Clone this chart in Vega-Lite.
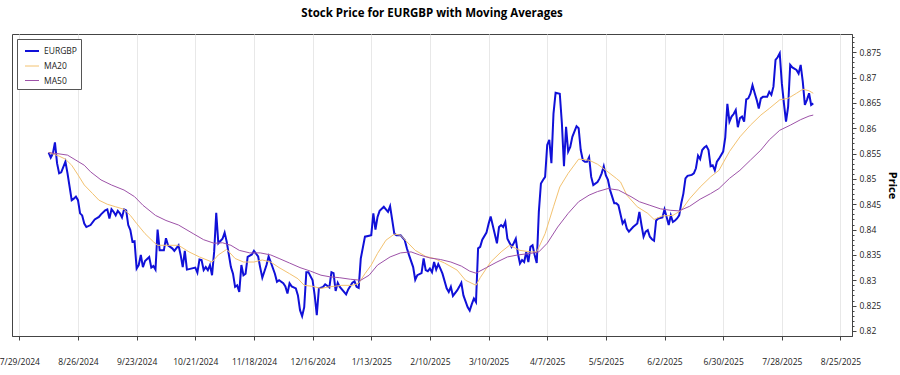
{
"$schema": "https://vega.github.io/schema/vega-lite/v6.json",
"width": 840, "height": 302,
"autosize": "none",
"padding": {"left": 12, "top": 34, "right": 48, "bottom": 39},
"config": {
"font": "Open Sans",
"view": {"stroke": "#444", "strokeWidth": 1},
"axis": {"labelFont": "Open Sans", "labelColor": "#222", "labelFontSize": 8.5, "domainColor": "#444", "tickColor": "#444"}
},
"title": {"text": "Stock Price for EURGBP with Moving Averages", "fontSize": 11.5, "fontWeight": "bold", "font": "Open Sans", "color": "#000", "anchor": "middle", "offset": 15},
"data": {"values": [
{"d":"2024-08-12","s":"EURGBP","p":0.8552},{"d":"2024-08-13","s":"EURGBP","p":0.8542},{"d":"2024-08-14","s":"EURGBP","p":0.8550},{"d":"2024-08-15","s":"EURGBP","p":0.8572},{"d":"2024-08-16","s":"EURGBP","p":0.8531},{"d":"2024-08-17","s":"EURGBP","p":0.8511},{"d":"2024-08-18","s":"EURGBP","p":0.8513},{"d":"2024-08-20","s":"EURGBP","p":0.8534},{"d":"2024-08-21","s":"EURGBP","p":0.8511},{"d":"2024-08-23","s":"EURGBP","p":0.8458},{"d":"2024-08-24","s":"EURGBP","p":0.8461},{"d":"2024-08-25","s":"EURGBP","p":0.8465},{"d":"2024-08-26","s":"EURGBP","p":0.8458},{"d":"2024-08-27","s":"EURGBP","p":0.8432},{"d":"2024-08-28","s":"EURGBP","p":0.8428},{"d":"2024-08-29","s":"EURGBP","p":0.8412},{"d":"2024-08-30","s":"EURGBP","p":0.8405},
{"d":"2024-09-01","s":"EURGBP","p":0.8409},{"d":"2024-09-03","s":"EURGBP","p":0.8420},{"d":"2024-09-05","s":"EURGBP","p":0.8425},{"d":"2024-09-06","s":"EURGBP","p":0.8430},{"d":"2024-09-08","s":"EURGBP","p":0.8438},{"d":"2024-09-09","s":"EURGBP","p":0.8440},{"d":"2024-09-10","s":"EURGBP","p":0.8422},{"d":"2024-09-11","s":"EURGBP","p":0.8440},{"d":"2024-09-12","s":"EURGBP","p":0.8435},{"d":"2024-09-13","s":"EURGBP","p":0.8428},{"d":"2024-09-14","s":"EURGBP","p":0.8437},{"d":"2024-09-15","s":"EURGBP","p":0.8432},{"d":"2024-09-16","s":"EURGBP","p":0.8424},{"d":"2024-09-17","s":"EURGBP","p":0.8440},{"d":"2024-09-18","s":"EURGBP","p":0.8438},{"d":"2024-09-19","s":"EURGBP","p":0.8409},{"d":"2024-09-20","s":"EURGBP","p":0.8399},{"d":"2024-09-21","s":"EURGBP","p":0.8376},{"d":"2024-09-22","s":"EURGBP","p":0.8377},{"d":"2024-09-23","s":"EURGBP","p":0.8323},{"d":"2024-09-24","s":"EURGBP","p":0.8330},{"d":"2024-09-25","s":"EURGBP","p":0.8350},{"d":"2024-09-26","s":"EURGBP","p":0.8326},{"d":"2024-09-27","s":"EURGBP","p":0.8338},{"d":"2024-09-29","s":"EURGBP","p":0.8346},{"d":"2024-09-30","s":"EURGBP","p":0.8325},
{"d":"2024-10-01","s":"EURGBP","p":0.8328},{"d":"2024-10-02","s":"EURGBP","p":0.8321},{"d":"2024-10-03","s":"EURGBP","p":0.8400},{"d":"2024-10-04","s":"EURGBP","p":0.8359},{"d":"2024-10-06","s":"EURGBP","p":0.8359},{"d":"2024-10-07","s":"EURGBP","p":0.8383},{"d":"2024-10-08","s":"EURGBP","p":0.8369},{"d":"2024-10-09","s":"EURGBP","p":0.8366},{"d":"2024-10-10","s":"EURGBP","p":0.8363},{"d":"2024-10-11","s":"EURGBP","p":0.8358},{"d":"2024-10-13","s":"EURGBP","p":0.8369},{"d":"2024-10-14","s":"EURGBP","p":0.8350},{"d":"2024-10-15","s":"EURGBP","p":0.8326},{"d":"2024-10-16","s":"EURGBP","p":0.8358},{"d":"2024-10-17","s":"EURGBP","p":0.8321},{"d":"2024-10-19","s":"EURGBP","p":0.8323},{"d":"2024-10-21","s":"EURGBP","p":0.8325},{"d":"2024-10-22","s":"EURGBP","p":0.8315},{"d":"2024-10-23","s":"EURGBP","p":0.8341},{"d":"2024-10-24","s":"EURGBP","p":0.8340},{"d":"2024-10-25","s":"EURGBP","p":0.8320},{"d":"2024-10-26","s":"EURGBP","p":0.8326},{"d":"2024-10-27","s":"EURGBP","p":0.8320},{"d":"2024-10-28","s":"EURGBP","p":0.8330},{"d":"2024-10-29","s":"EURGBP","p":0.8310},{"d":"2024-10-30","s":"EURGBP","p":0.8356},{"d":"2024-10-31","s":"EURGBP","p":0.8433},
{"d":"2024-11-01","s":"EURGBP","p":0.8373},{"d":"2024-11-03","s":"EURGBP","p":0.8382},{"d":"2024-11-04","s":"EURGBP","p":0.8394},{"d":"2024-11-05","s":"EURGBP","p":0.8376},{"d":"2024-11-07","s":"EURGBP","p":0.8326},{"d":"2024-11-08","s":"EURGBP","p":0.8313},{"d":"2024-11-09","s":"EURGBP","p":0.8287},{"d":"2024-11-10","s":"EURGBP","p":0.8290},{"d":"2024-11-11","s":"EURGBP","p":0.8277},{"d":"2024-11-12","s":"EURGBP","p":0.8330},{"d":"2024-11-13","s":"EURGBP","p":0.8310},{"d":"2024-11-14","s":"EURGBP","p":0.8313},{"d":"2024-11-15","s":"EURGBP","p":0.8346},{"d":"2024-11-17","s":"EURGBP","p":0.8351},{"d":"2024-11-18","s":"EURGBP","p":0.8358},{"d":"2024-11-20","s":"EURGBP","p":0.8347},{"d":"2024-11-21","s":"EURGBP","p":0.8325},{"d":"2024-11-22","s":"EURGBP","p":0.8305},{"d":"2024-11-24","s":"EURGBP","p":0.8330},{"d":"2024-11-25","s":"EURGBP","p":0.8347},{"d":"2024-11-26","s":"EURGBP","p":0.8336},{"d":"2024-11-28","s":"EURGBP","p":0.8313},{"d":"2024-11-29","s":"EURGBP","p":0.8297},{"d":"2024-11-30","s":"EURGBP","p":0.8300},
{"d":"2024-12-02","s":"EURGBP","p":0.8294},{"d":"2024-12-03","s":"EURGBP","p":0.8288},{"d":"2024-12-04","s":"EURGBP","p":0.8274},{"d":"2024-12-05","s":"EURGBP","p":0.8294},{"d":"2024-12-06","s":"EURGBP","p":0.8288},{"d":"2024-12-08","s":"EURGBP","p":0.8284},{"d":"2024-12-09","s":"EURGBP","p":0.8270},{"d":"2024-12-10","s":"EURGBP","p":0.8241},{"d":"2024-12-11","s":"EURGBP","p":0.8229},{"d":"2024-12-12","s":"EURGBP","p":0.8247},{"d":"2024-12-13","s":"EURGBP","p":0.8316},{"d":"2024-12-14","s":"EURGBP","p":0.8316},{"d":"2024-12-16","s":"EURGBP","p":0.8300},{"d":"2024-12-17","s":"EURGBP","p":0.8270},{"d":"2024-12-18","s":"EURGBP","p":0.8231},{"d":"2024-12-19","s":"EURGBP","p":0.8284},{"d":"2024-12-21","s":"EURGBP","p":0.8287},{"d":"2024-12-22","s":"EURGBP","p":0.8292},{"d":"2024-12-24","s":"EURGBP","p":0.8286},{"d":"2024-12-25","s":"EURGBP","p":0.8316},{"d":"2024-12-26","s":"EURGBP","p":0.8314},{"d":"2024-12-27","s":"EURGBP","p":0.8279},{"d":"2024-12-28","s":"EURGBP","p":0.8295},{"d":"2024-12-29","s":"EURGBP","p":0.8287},{"d":"2024-12-31","s":"EURGBP","p":0.8277},
{"d":"2025-01-01","s":"EURGBP","p":0.8272},{"d":"2025-01-02","s":"EURGBP","p":0.8282},{"d":"2025-01-04","s":"EURGBP","p":0.8295},{"d":"2025-01-05","s":"EURGBP","p":0.8298},{"d":"2025-01-06","s":"EURGBP","p":0.8287},{"d":"2025-01-07","s":"EURGBP","p":0.8285},{"d":"2025-01-08","s":"EURGBP","p":0.8343},{"d":"2025-01-10","s":"EURGBP","p":0.8386},{"d":"2025-01-12","s":"EURGBP","p":0.8388},{"d":"2025-01-13","s":"EURGBP","p":0.8389},{"d":"2025-01-14","s":"EURGBP","p":0.8432},{"d":"2025-01-15","s":"EURGBP","p":0.8400},{"d":"2025-01-16","s":"EURGBP","p":0.8425},{"d":"2025-01-17","s":"EURGBP","p":0.8437},{"d":"2025-01-19","s":"EURGBP","p":0.8445},{"d":"2025-01-20","s":"EURGBP","p":0.8440},{"d":"2025-01-21","s":"EURGBP","p":0.8435},{"d":"2025-01-22","s":"EURGBP","p":0.8446},{"d":"2025-01-23","s":"EURGBP","p":0.8419},{"d":"2025-01-24","s":"EURGBP","p":0.8392},{"d":"2025-01-25","s":"EURGBP","p":0.8389},{"d":"2025-01-27","s":"EURGBP","p":0.8389},{"d":"2025-01-29","s":"EURGBP","p":0.8379},{"d":"2025-01-30","s":"EURGBP","p":0.8363},{"d":"2025-01-31","s":"EURGBP","p":0.8350},
{"d":"2025-02-02","s":"EURGBP","p":0.8326},{"d":"2025-02-03","s":"EURGBP","p":0.8301},{"d":"2025-02-04","s":"EURGBP","p":0.8310},{"d":"2025-02-06","s":"EURGBP","p":0.8314},{"d":"2025-02-07","s":"EURGBP","p":0.8343},{"d":"2025-02-08","s":"EURGBP","p":0.8320},{"d":"2025-02-09","s":"EURGBP","p":0.8318},{"d":"2025-02-10","s":"EURGBP","p":0.8323},{"d":"2025-02-11","s":"EURGBP","p":0.8316},{"d":"2025-02-12","s":"EURGBP","p":0.8336},{"d":"2025-02-13","s":"EURGBP","p":0.8321},{"d":"2025-02-14","s":"EURGBP","p":0.8332},{"d":"2025-02-15","s":"EURGBP","p":0.8323},{"d":"2025-02-16","s":"EURGBP","p":0.8313},{"d":"2025-02-18","s":"EURGBP","p":0.8284},{"d":"2025-02-19","s":"EURGBP","p":0.8277},{"d":"2025-02-20","s":"EURGBP","p":0.8287},{"d":"2025-02-21","s":"EURGBP","p":0.8269},{"d":"2025-02-23","s":"EURGBP","p":0.8280},{"d":"2025-02-24","s":"EURGBP","p":0.8287},{"d":"2025-02-25","s":"EURGBP","p":0.8295},{"d":"2025-02-26","s":"EURGBP","p":0.8270},{"d":"2025-02-28","s":"EURGBP","p":0.8247},
{"d":"2025-03-01","s":"EURGBP","p":0.8240},{"d":"2025-03-02","s":"EURGBP","p":0.8253},{"d":"2025-03-03","s":"EURGBP","p":0.8264},{"d":"2025-03-04","s":"EURGBP","p":0.8257},{"d":"2025-03-05","s":"EURGBP","p":0.8363},{"d":"2025-03-06","s":"EURGBP","p":0.8366},{"d":"2025-03-07","s":"EURGBP","p":0.8380},{"d":"2025-03-09","s":"EURGBP","p":0.8394},{"d":"2025-03-10","s":"EURGBP","p":0.8411},{"d":"2025-03-11","s":"EURGBP","p":0.8426},{"d":"2025-03-13","s":"EURGBP","p":0.8391},{"d":"2025-03-14","s":"EURGBP","p":0.8373},{"d":"2025-03-15","s":"EURGBP","p":0.8405},{"d":"2025-03-16","s":"EURGBP","p":0.8409},{"d":"2025-03-17","s":"EURGBP","p":0.8405},{"d":"2025-03-18","s":"EURGBP","p":0.8415},{"d":"2025-03-19","s":"EURGBP","p":0.8382},{"d":"2025-03-21","s":"EURGBP","p":0.8366},{"d":"2025-03-22","s":"EURGBP","p":0.8373},{"d":"2025-03-23","s":"EURGBP","p":0.8382},{"d":"2025-03-24","s":"EURGBP","p":0.8353},{"d":"2025-03-25","s":"EURGBP","p":0.8333},{"d":"2025-03-26","s":"EURGBP","p":0.8340},{"d":"2025-03-27","s":"EURGBP","p":0.8336},{"d":"2025-03-28","s":"EURGBP","p":0.8356},{"d":"2025-03-29","s":"EURGBP","p":0.8336},{"d":"2025-03-30","s":"EURGBP","p":0.8366},{"d":"2025-03-31","s":"EURGBP","p":0.8369},
{"d":"2025-04-01","s":"EURGBP","p":0.8350},{"d":"2025-04-02","s":"EURGBP","p":0.8334},{"d":"2025-04-03","s":"EURGBP","p":0.8435},{"d":"2025-04-04","s":"EURGBP","p":0.8491},{"d":"2025-04-05","s":"EURGBP","p":0.8498},{"d":"2025-04-06","s":"EURGBP","p":0.8504},{"d":"2025-04-07","s":"EURGBP","p":0.8567},{"d":"2025-04-08","s":"EURGBP","p":0.8577},{"d":"2025-04-09","s":"EURGBP","p":0.8531},{"d":"2025-04-10","s":"EURGBP","p":0.8629},{"d":"2025-04-11","s":"EURGBP","p":0.8670},{"d":"2025-04-13","s":"EURGBP","p":0.8668},{"d":"2025-04-14","s":"EURGBP","p":0.8610},{"d":"2025-04-15","s":"EURGBP","p":0.8525},{"d":"2025-04-16","s":"EURGBP","p":0.8603},{"d":"2025-04-17","s":"EURGBP","p":0.8554},{"d":"2025-04-18","s":"EURGBP","p":0.8563},{"d":"2025-04-19","s":"EURGBP","p":0.8583},{"d":"2025-04-21","s":"EURGBP","p":0.8604},{"d":"2025-04-22","s":"EURGBP","p":0.8600},{"d":"2025-04-23","s":"EURGBP","p":0.8557},{"d":"2025-04-24","s":"EURGBP","p":0.8537},{"d":"2025-04-25","s":"EURGBP","p":0.8534},{"d":"2025-04-26","s":"EURGBP","p":0.8534},{"d":"2025-04-27","s":"EURGBP","p":0.8543},{"d":"2025-04-28","s":"EURGBP","p":0.8504},{"d":"2025-04-29","s":"EURGBP","p":0.8488},
{"d":"2025-05-01","s":"EURGBP","p":0.8494},{"d":"2025-05-02","s":"EURGBP","p":0.8501},{"d":"2025-05-03","s":"EURGBP","p":0.8511},{"d":"2025-05-04","s":"EURGBP","p":0.8525},{"d":"2025-05-05","s":"EURGBP","p":0.8507},{"d":"2025-05-06","s":"EURGBP","p":0.8498},{"d":"2025-05-07","s":"EURGBP","p":0.8478},{"d":"2025-05-08","s":"EURGBP","p":0.8465},{"d":"2025-05-09","s":"EURGBP","p":0.8452},{"d":"2025-05-10","s":"EURGBP","p":0.8452},{"d":"2025-05-11","s":"EURGBP","p":0.8448},{"d":"2025-05-13","s":"EURGBP","p":0.8412},{"d":"2025-05-14","s":"EURGBP","p":0.8418},{"d":"2025-05-15","s":"EURGBP","p":0.8402},{"d":"2025-05-16","s":"EURGBP","p":0.8396},{"d":"2025-05-18","s":"EURGBP","p":0.8405},{"d":"2025-05-20","s":"EURGBP","p":0.8412},{"d":"2025-05-21","s":"EURGBP","p":0.8435},{"d":"2025-05-22","s":"EURGBP","p":0.8409},{"d":"2025-05-23","s":"EURGBP","p":0.8386},{"d":"2025-05-24","s":"EURGBP","p":0.8396},{"d":"2025-05-25","s":"EURGBP","p":0.8399},{"d":"2025-05-26","s":"EURGBP","p":0.8386},{"d":"2025-05-27","s":"EURGBP","p":0.8381},{"d":"2025-05-28","s":"EURGBP","p":0.8378},{"d":"2025-05-29","s":"EURGBP","p":0.8418},{"d":"2025-05-30","s":"EURGBP","p":0.8422},
{"d":"2025-06-01","s":"EURGBP","p":0.8424},{"d":"2025-06-02","s":"EURGBP","p":0.8440},{"d":"2025-06-03","s":"EURGBP","p":0.8425},{"d":"2025-06-04","s":"EURGBP","p":0.8409},{"d":"2025-06-05","s":"EURGBP","p":0.8428},{"d":"2025-06-06","s":"EURGBP","p":0.8415},{"d":"2025-06-07","s":"EURGBP","p":0.8418},{"d":"2025-06-08","s":"EURGBP","p":0.8422},{"d":"2025-06-09","s":"EURGBP","p":0.8428},{"d":"2025-06-10","s":"EURGBP","p":0.8452},{"d":"2025-06-11","s":"EURGBP","p":0.8471},{"d":"2025-06-12","s":"EURGBP","p":0.8501},{"d":"2025-06-13","s":"EURGBP","p":0.8506},{"d":"2025-06-15","s":"EURGBP","p":0.8508},{"d":"2025-06-16","s":"EURGBP","p":0.8511},{"d":"2025-06-17","s":"EURGBP","p":0.8521},{"d":"2025-06-18","s":"EURGBP","p":0.8546},{"d":"2025-06-19","s":"EURGBP","p":0.8539},{"d":"2025-06-20","s":"EURGBP","p":0.8557},{"d":"2025-06-21","s":"EURGBP","p":0.8562},{"d":"2025-06-22","s":"EURGBP","p":0.8565},{"d":"2025-06-23","s":"EURGBP","p":0.8557},{"d":"2025-06-24","s":"EURGBP","p":0.8525},{"d":"2025-06-25","s":"EURGBP","p":0.8527},{"d":"2025-06-26","s":"EURGBP","p":0.8517},{"d":"2025-06-27","s":"EURGBP","p":0.8534},{"d":"2025-06-28","s":"EURGBP","p":0.8540},{"d":"2025-06-30","s":"EURGBP","p":0.8554},
{"d":"2025-07-01","s":"EURGBP","p":0.8582},{"d":"2025-07-02","s":"EURGBP","p":0.8648},{"d":"2025-07-03","s":"EURGBP","p":0.8613},{"d":"2025-07-04","s":"EURGBP","p":0.8623},{"d":"2025-07-05","s":"EURGBP","p":0.8628},{"d":"2025-07-06","s":"EURGBP","p":0.8636},{"d":"2025-07-07","s":"EURGBP","p":0.8602},{"d":"2025-07-08","s":"EURGBP","p":0.8620},{"d":"2025-07-09","s":"EURGBP","p":0.8623},{"d":"2025-07-10","s":"EURGBP","p":0.8613},{"d":"2025-07-11","s":"EURGBP","p":0.8657},{"d":"2025-07-12","s":"EURGBP","p":0.8659},{"d":"2025-07-13","s":"EURGBP","p":0.8668},{"d":"2025-07-14","s":"EURGBP","p":0.8685},{"d":"2025-07-15","s":"EURGBP","p":0.8670},{"d":"2025-07-16","s":"EURGBP","p":0.8656},{"d":"2025-07-17","s":"EURGBP","p":0.8639},{"d":"2025-07-18","s":"EURGBP","p":0.8659},{"d":"2025-07-19","s":"EURGBP","p":0.8662},{"d":"2025-07-21","s":"EURGBP","p":0.8662},{"d":"2025-07-22","s":"EURGBP","p":0.8672},{"d":"2025-07-23","s":"EURGBP","p":0.8666},{"d":"2025-07-24","s":"EURGBP","p":0.8682},{"d":"2025-07-25","s":"EURGBP","p":0.8735},{"d":"2025-07-26","s":"EURGBP","p":0.8740},{"d":"2025-07-27","s":"EURGBP","p":0.8748},{"d":"2025-07-28","s":"EURGBP","p":0.8689},{"d":"2025-07-29","s":"EURGBP","p":0.8649},{"d":"2025-07-30","s":"EURGBP","p":0.8613},{"d":"2025-07-31","s":"EURGBP","p":0.8642},
{"d":"2025-08-01","s":"EURGBP","p":0.8725},{"d":"2025-08-02","s":"EURGBP","p":0.8720},{"d":"2025-08-04","s":"EURGBP","p":0.8715},{"d":"2025-08-05","s":"EURGBP","p":0.8708},{"d":"2025-08-06","s":"EURGBP","p":0.8725},{"d":"2025-08-07","s":"EURGBP","p":0.8692},{"d":"2025-08-08","s":"EURGBP","p":0.8646},{"d":"2025-08-09","s":"EURGBP","p":0.8656},{"d":"2025-08-10","s":"EURGBP","p":0.8669},{"d":"2025-08-11","s":"EURGBP","p":0.8646},{"d":"2025-08-12","s":"EURGBP","p":0.8649},
{"d":"2024-08-12","s":"MA20","p":0.8552},{"d":"2024-08-17","s":"MA20","p":0.8545},{"d":"2024-08-20","s":"MA20","p":0.8539},{"d":"2024-08-23","s":"MA20","p":0.8527},{"d":"2024-08-26","s":"MA20","p":0.8508},{"d":"2024-08-29","s":"MA20","p":0.8488},{"d":"2024-09-02","s":"MA20","p":0.8471},{"d":"2024-09-05","s":"MA20","p":0.8458},{"d":"2024-09-09","s":"MA20","p":0.8450},{"d":"2024-09-13","s":"MA20","p":0.8445},{"d":"2024-09-17","s":"MA20","p":0.8440},{"d":"2024-09-20","s":"MA20","p":0.8428},{"d":"2024-09-23","s":"MA20","p":0.8412},{"d":"2024-09-27","s":"MA20","p":0.8392},{"d":"2024-10-01","s":"MA20","p":0.8376},{"d":"2024-10-03","s":"MA20","p":0.8369},{"d":"2024-10-08","s":"MA20","p":0.8369},{"d":"2024-10-13","s":"MA20","p":0.8369},{"d":"2024-10-18","s":"MA20","p":0.8356},{"d":"2024-10-23","s":"MA20","p":0.8346},{"d":"2024-10-29","s":"MA20","p":0.8336},{"d":"2024-11-01","s":"MA20","p":0.8350},{"d":"2024-11-05","s":"MA20","p":0.8361},{"d":"2024-11-09","s":"MA20","p":0.8343},{"d":"2024-11-13","s":"MA20","p":0.8336},{"d":"2024-11-18","s":"MA20","p":0.8336},{"d":"2024-11-22","s":"MA20","p":0.8340},{"d":"2024-11-26","s":"MA20","p":0.8336},{"d":"2024-11-30","s":"MA20","p":0.8325},{"d":"2024-12-05","s":"MA20","p":0.8313},{"d":"2024-12-09","s":"MA20","p":0.8303},{"d":"2024-12-12","s":"MA20","p":0.8290},{"d":"2024-12-16","s":"MA20","p":0.8288},{"d":"2024-12-20","s":"MA20","p":0.8284},{"d":"2024-12-24","s":"MA20","p":0.8287},{"d":"2024-12-30","s":"MA20","p":0.8290},{"d":"2025-01-04","s":"MA20","p":0.8290},{"d":"2025-01-07","s":"MA20","p":0.8294},{"d":"2025-01-10","s":"MA20","p":0.8313},{"d":"2025-01-13","s":"MA20","p":0.8330},{"d":"2025-01-16","s":"MA20","p":0.8353},{"d":"2025-01-20","s":"MA20","p":0.8379},{"d":"2025-01-24","s":"MA20","p":0.8391},{"d":"2025-01-27","s":"MA20","p":0.8389},{"d":"2025-01-30","s":"MA20","p":0.8376},{"d":"2025-02-03","s":"MA20","p":0.8359},{"d":"2025-02-08","s":"MA20","p":0.8347},{"d":"2025-02-12","s":"MA20","p":0.8343},{"d":"2025-02-17","s":"MA20","p":0.8334},{"d":"2025-02-23","s":"MA20","p":0.8320},{"d":"2025-02-27","s":"MA20","p":0.8300},{"d":"2025-03-04","s":"MA20","p":0.8290},{"d":"2025-03-06","s":"MA20","p":0.8305},{"d":"2025-03-11","s":"MA20","p":0.8336},{"d":"2025-03-16","s":"MA20","p":0.8356},{"d":"2025-03-20","s":"MA20","p":0.8369},{"d":"2025-03-25","s":"MA20","p":0.8359},{"d":"2025-03-30","s":"MA20","p":0.8356},{"d":"2025-04-02","s":"MA20","p":0.8356},{"d":"2025-04-06","s":"MA20","p":0.8392},{"d":"2025-04-10","s":"MA20","p":0.8445},{"d":"2025-04-13","s":"MA20","p":0.8484},{"d":"2025-04-17","s":"MA20","p":0.8511},{"d":"2025-04-22","s":"MA20","p":0.8539},{"d":"2025-04-27","s":"MA20","p":0.8537},{"d":"2025-05-01","s":"MA20","p":0.8529},{"d":"2025-05-05","s":"MA20","p":0.8517},{"d":"2025-05-10","s":"MA20","p":0.8501},{"d":"2025-05-12","s":"MA20","p":0.8494},{"d":"2025-05-15","s":"MA20","p":0.8468},{"d":"2025-05-20","s":"MA20","p":0.8445},{"d":"2025-05-25","s":"MA20","p":0.8432},{"d":"2025-05-28","s":"MA20","p":0.8420},{"d":"2025-06-01","s":"MA20","p":0.8427},{"d":"2025-06-06","s":"MA20","p":0.8428},{"d":"2025-06-10","s":"MA20","p":0.8438},{"d":"2025-06-14","s":"MA20","p":0.8461},{"d":"2025-06-19","s":"MA20","p":0.8484},{"d":"2025-06-24","s":"MA20","p":0.8504},{"d":"2025-06-28","s":"MA20","p":0.8517},{"d":"2025-07-03","s":"MA20","p":0.8554},{"d":"2025-07-08","s":"MA20","p":0.8583},{"d":"2025-07-13","s":"MA20","p":0.8606},{"d":"2025-07-18","s":"MA20","p":0.8626},{"d":"2025-07-22","s":"MA20","p":0.8639},{"d":"2025-07-27","s":"MA20","p":0.8656},{"d":"2025-07-31","s":"MA20","p":0.8659},{"d":"2025-08-04","s":"MA20","p":0.8669},{"d":"2025-08-07","s":"MA20","p":0.8677},{"d":"2025-08-10","s":"MA20","p":0.8674},{"d":"2025-08-12","s":"MA20","p":0.8669},
{"d":"2024-08-12","s":"MA50","p":0.8552},{"d":"2024-08-16","s":"MA50","p":0.8550},{"d":"2024-08-21","s":"MA50","p":0.8547},{"d":"2024-08-25","s":"MA50","p":0.8537},{"d":"2024-08-29","s":"MA50","p":0.8527},{"d":"2024-09-01","s":"MA50","p":0.8514},{"d":"2024-09-06","s":"MA50","p":0.8498},{"d":"2024-09-11","s":"MA50","p":0.8488},{"d":"2024-09-17","s":"MA50","p":0.8478},{"d":"2024-09-22","s":"MA50","p":0.8465},{"d":"2024-09-26","s":"MA50","p":0.8448},{"d":"2024-10-02","s":"MA50","p":0.8428},{"d":"2024-10-07","s":"MA50","p":0.8418},{"d":"2024-10-13","s":"MA50","p":0.8409},{"d":"2024-10-20","s":"MA50","p":0.8392},{"d":"2024-10-25","s":"MA50","p":0.8380},{"d":"2024-10-30","s":"MA50","p":0.8373},{"d":"2024-11-03","s":"MA50","p":0.8374},{"d":"2024-11-07","s":"MA50","p":0.8369},{"d":"2024-11-11","s":"MA50","p":0.8359},{"d":"2024-11-16","s":"MA50","p":0.8354},{"d":"2024-11-21","s":"MA50","p":0.8354},{"d":"2024-11-26","s":"MA50","p":0.8350},{"d":"2024-11-30","s":"MA50","p":0.8343},{"d":"2024-12-05","s":"MA50","p":0.8334},{"d":"2024-12-10","s":"MA50","p":0.8325},{"d":"2024-12-15","s":"MA50","p":0.8318},{"d":"2024-12-20","s":"MA50","p":0.8310},{"d":"2024-12-24","s":"MA50","p":0.8307},{"d":"2024-12-29","s":"MA50","p":0.8305},{"d":"2025-01-03","s":"MA50","p":0.8302},{"d":"2025-01-08","s":"MA50","p":0.8300},{"d":"2025-01-12","s":"MA50","p":0.8310},{"d":"2025-01-16","s":"MA50","p":0.8330},{"d":"2025-01-22","s":"MA50","p":0.8346},{"d":"2025-01-27","s":"MA50","p":0.8354},{"d":"2025-02-01","s":"MA50","p":0.8356},{"d":"2025-02-05","s":"MA50","p":0.8350},{"d":"2025-02-10","s":"MA50","p":0.8344},{"d":"2025-02-15","s":"MA50","p":0.8341},{"d":"2025-02-20","s":"MA50","p":0.8336},{"d":"2025-02-25","s":"MA50","p":0.8328},{"d":"2025-03-01","s":"MA50","p":0.8318},{"d":"2025-03-04","s":"MA50","p":0.8314},{"d":"2025-03-09","s":"MA50","p":0.8325},{"d":"2025-03-14","s":"MA50","p":0.8336},{"d":"2025-03-19","s":"MA50","p":0.8346},{"d":"2025-03-24","s":"MA50","p":0.8350},{"d":"2025-03-30","s":"MA50","p":0.8353},{"d":"2025-04-03","s":"MA50","p":0.8356},{"d":"2025-04-07","s":"MA50","p":0.8373},{"d":"2025-04-12","s":"MA50","p":0.8405},{"d":"2025-04-17","s":"MA50","p":0.8432},{"d":"2025-04-22","s":"MA50","p":0.8455},{"d":"2025-04-27","s":"MA50","p":0.8468},{"d":"2025-05-01","s":"MA50","p":0.8475},{"d":"2025-05-06","s":"MA50","p":0.8481},{"d":"2025-05-11","s":"MA50","p":0.8478},{"d":"2025-05-17","s":"MA50","p":0.8465},{"d":"2025-05-21","s":"MA50","p":0.8455},{"d":"2025-05-26","s":"MA50","p":0.8448},{"d":"2025-05-31","s":"MA50","p":0.8441},{"d":"2025-06-05","s":"MA50","p":0.8438},{"d":"2025-06-09","s":"MA50","p":0.8437},{"d":"2025-06-14","s":"MA50","p":0.8446},{"d":"2025-06-19","s":"MA50","p":0.8460},{"d":"2025-06-24","s":"MA50","p":0.8471},{"d":"2025-06-28","s":"MA50","p":0.8481},{"d":"2025-07-03","s":"MA50","p":0.8501},{"d":"2025-07-08","s":"MA50","p":0.8517},{"d":"2025-07-13","s":"MA50","p":0.8537},{"d":"2025-07-18","s":"MA50","p":0.8557},{"d":"2025-07-22","s":"MA50","p":0.8577},{"d":"2025-07-27","s":"MA50","p":0.8596},{"d":"2025-08-01","s":"MA50","p":0.8606},{"d":"2025-08-06","s":"MA50","p":0.8617},{"d":"2025-08-10","s":"MA50","p":0.8624},{"d":"2025-08-12","s":"MA50","p":0.8626}
]},
"layer": [
{
"mark": {"type": "line", "interpolate": "linear"},
"encoding": {
"x": {"field": "d", "type": "temporal",
"scale": {"type": "utc", "domain": [{"year": 2024, "month": 7, "date": 25, "hours": 12, "utc": true}, {"year": 2025, "month": 8, "date": 30, "hours": 12, "utc": true}]},
"axis": {"title": null, "labelExpr": "utcFormat(datum.value, '%-m/%-d/%Y')", "grid": true, "gridColor": "#e8e8e8", "tickSize": 4, "labelPadding": 17, "labelOverlap": false, "labelBound": false, "labelFlush": false,
"values": [{"year":2024,"month":7,"date":29,"utc":true},{"year":2024,"month":8,"date":26,"utc":true},{"year":2024,"month":9,"date":23,"utc":true},{"year":2024,"month":10,"date":21,"utc":true},{"year":2024,"month":11,"date":18,"utc":true},{"year":2024,"month":12,"date":16,"utc":true},{"year":2025,"month":1,"date":13,"utc":true},{"year":2025,"month":2,"date":10,"utc":true},{"year":2025,"month":3,"date":10,"utc":true},{"year":2025,"month":4,"date":7,"utc":true},{"year":2025,"month":5,"date":5,"utc":true},{"year":2025,"month":6,"date":2,"utc":true},{"year":2025,"month":6,"date":30,"utc":true},{"year":2025,"month":7,"date":28,"utc":true},{"year":2025,"month":8,"date":25,"utc":true}]}},
"y": {"field": "p", "type": "quantitative", "scale": {"domain": [0.819, 0.8786], "nice": false, "zero": false},
"axis": {"orient": "right", "title": "Price", "titleFont": "Open Sans", "titleFontSize": 11, "titleFontWeight": "bold", "titleColor": "#000", "titlePadding": 6, "grid": false, "format": ".3~f", "tickSize": 4, "labelPadding": 3,
"values": [0.82, 0.825, 0.83, 0.835, 0.84, 0.845, 0.85, 0.855, 0.86, 0.865, 0.87, 0.875]}},
"color": {"field": "s", "type": "nominal",
"scale": {"domain": ["EURGBP", "MA20", "MA50"], "range": ["#1010d8", "#f3c270", "#9d52a8"]},
"legend": {"title": null, "orient": "none", "legendX": 5, "legendY": 5, "fillColor": "white", "strokeColor": "#555", "padding": 4, "symbolOffset": 3, "rowPadding": 2.5, "symbolType": "stroke", "symbolSize": 196, "labelFont": "Open Sans", "labelFontSize": 8.5, "labelColor": "#222", "labelOffset": 4}},
"strokeWidth": {"field": "s", "type": "nominal", "scale": {"type": "ordinal", "domain": ["EURGBP", "MA20", "MA50"], "range": [2, 1, 1]}, "legend": null}
}
},
{
"mark": {"type": "point", "opacity": 0},
"encoding": {
"y": {"field": "p", "type": "quantitative",
"axis": {"orient": "right", "title": null, "labels": false, "domain": false, "grid": false, "tickSize": 2,
"values": [0.82,0.821,0.822,0.823,0.824,0.826,0.827,0.828,0.829,0.831,0.832,0.833,0.834,0.836,0.837,0.838,0.839,0.841,0.842,0.843,0.844,0.846,0.847,0.848,0.849,0.851,0.852,0.853,0.854,0.856,0.857,0.858,0.859,0.861,0.862,0.863,0.864,0.866,0.867,0.868,0.869,0.871,0.872,0.873,0.874,0.876,0.877,0.878]}}
}
}
],
"resolve": {"axis": {"y": "independent"}}
}
